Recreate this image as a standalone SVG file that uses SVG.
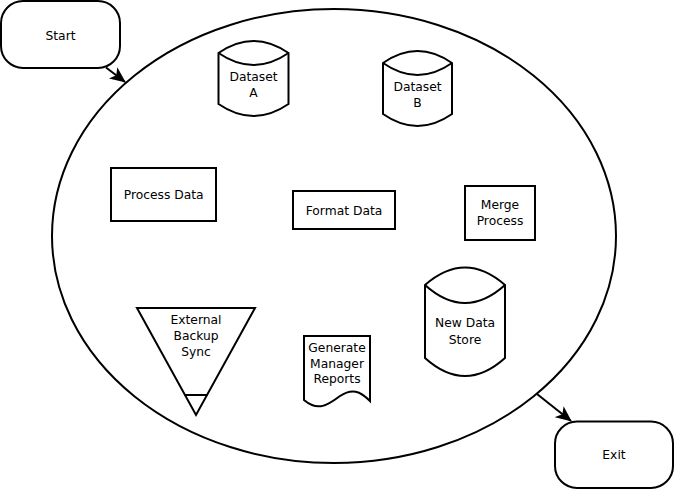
<svg xmlns="http://www.w3.org/2000/svg" width="674" height="489" viewBox="0 0 674 489">
<style>
.s{fill:#fff;stroke:#000;stroke-width:2}
.n{fill:none;stroke:#000;stroke-width:2}
text{font-family:"DejaVu Sans",sans-serif;font-size:12.3px;fill:#000;text-anchor:middle}
</style>
<defs>
<marker id="ah" viewBox="0 0 16 14" refX="15" refY="7" markerWidth="16" markerHeight="14" markerUnits="userSpaceOnUse" orient="auto">
<path d="M0,0 L16,7 L0,14 L4,7 Z" fill="#000"/>
</marker>
</defs>
<g id="container">
<ellipse class="s" cx="334" cy="236" rx="282" ry="227"/>
</g>
<g id="start">
<rect class="s" x="1" y="1" width="119" height="67" rx="22" ry="22"/>
<text x="60.5" y="39.5">Start</text>
</g>
<g id="exit">
<rect class="s" x="555" y="421.5" width="118" height="66.5" rx="22" ry="22"/>
<text x="614" y="458.5">Exit</text>
</g>
<g id="datasetA">
<path class="s" d="M218.5,53 Q253.5,29 288.5,53 L288.5,104 Q253.5,128 218.5,104 Z"/>
<path class="n" d="M218.5,53 Q253.5,77 288.5,53"/>
<text x="253.5" y="81">Dataset</text>
<text x="253.5" y="96.5">A</text>
</g>
<g id="datasetB">
<path class="s" d="M383,63 Q417.5,39 452,63 L452,114 Q417.5,138 383,114 Z"/>
<path class="n" d="M383,63 Q417.5,87 452,63"/>
<text x="417.5" y="91">Dataset</text>
<text x="417.5" y="107">B</text>
</g>
<g id="processData">
<rect class="s" x="111" y="168" width="105" height="53"/>
<text x="163.7" y="199">Process Data</text>
</g>
<g id="formatData">
<rect class="s" x="293" y="191" width="102" height="38"/>
<text x="344" y="214.5">Format Data</text>
</g>
<g id="mergeProcess">
<rect class="s" x="465" y="186" width="70" height="54"/>
<text x="500" y="209">Merge</text>
<text x="500" y="225">Process</text>
</g>
<g id="newDataStore">
<path class="s" d="M425,285 Q465,250 505,285 L505,358 Q465,394 425,358 Z"/>
<path class="n" d="M425,285 Q465,321 505,285"/>
<text x="465" y="327">New Data</text>
<text x="465" y="343.5">Store</text>
</g>
<g id="externalBackupSync">
<path class="s" d="M137,308 H255 L196,415 Z"/>
<path class="n" d="M184.5,395 H207.5"/>
<text x="196" y="323.5">External</text>
<text x="196" y="339.5">Backup</text>
<text x="196" y="355.5">Sync</text>
</g>
<g id="generateReports">
<path class="s" d="M304,336 H370 V401 C360,391 352,388 340,396 C328,405 318,412 304,400 Z"/>
<text x="337" y="351.5">Generate</text>
<text x="337" y="367.5">Manager</text>
<text x="337" y="383">Reports</text>
</g>
<g id="connectors">
<path class="n" d="M106,67.5 L125,82" marker-end="url(#ah)"/>
<path class="n" d="M537,394 L571,421" marker-end="url(#ah)"/>
</g>
</svg>
